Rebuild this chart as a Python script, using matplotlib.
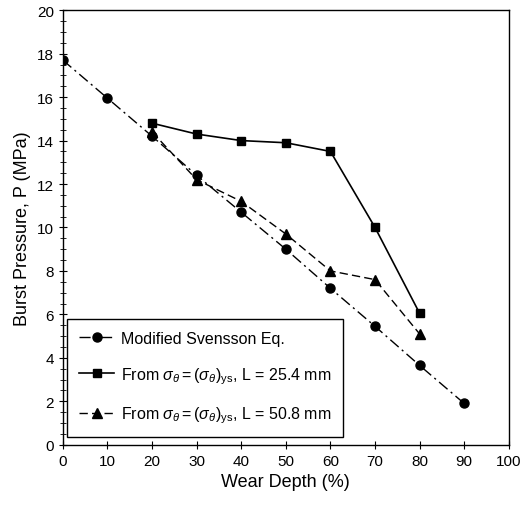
import matplotlib
matplotlib.use("Agg")
import matplotlib.pyplot as plt
from matplotlib.ticker import MultipleLocator

plt.rcParams['font.family'] = ['Liberation Sans', 'DejaVu Sans']
plt.rcParams['mathtext.fontset'] = 'custom'
plt.rcParams['mathtext.rm'] = 'Liberation Sans'
plt.rcParams['mathtext.it'] = 'Liberation Sans:italic'

depth_sv = [0, 10, 20, 30, 40, 50, 60, 70, 80, 90]
p_sv = [17.7, 15.95, 14.2, 12.4, 10.7, 9.0, 7.2, 5.45, 3.65, 1.9]

depth_sq = [20, 30, 40, 50, 60, 70, 80]
p_sq = [14.8, 14.3, 14.0, 13.9, 13.5, 10.0, 6.05]

depth_tr = [20, 30, 40, 50, 60, 70, 80]
p_tr = [14.4, 12.2, 11.2, 9.7, 8.0, 7.6, 5.1]

labels = ['Modified Svensson Eq.',
          r'From $\sigma_\theta = (\sigma_\theta)_{\rm ys}$, L = 25.4 mm',
          r'From $\sigma_\theta = (\sigma_\theta)_{\rm ys}$, L = 50.8 mm']

fig = plt.figure(figsize=(5.24, 5.10), dpi=100)
ax = fig.add_axes([0.120, 0.126, 0.851, 0.852])

ax.plot(depth_sv, p_sv, color='black', linestyle=(0, (8, 3, 1.5, 3)), lw=1.0,
        marker='o', markersize=6.5, label=labels[0])
ax.plot(depth_sq, p_sq, color='black', linestyle='-', lw=1.2,
        marker='s', markersize=6, label=labels[1])
ax.plot(depth_tr, p_tr, color='black', linestyle=(0, (6, 3)), lw=1.0,
        marker='^', markersize=6.5, label=labels[2])

ax.set_xlim(0, 100)
ax.set_ylim(0, 20)
ax.xaxis.set_major_locator(MultipleLocator(10))
ax.yaxis.set_major_locator(MultipleLocator(2))
ax.yaxis.set_minor_locator(MultipleLocator(0.5))
ax.tick_params(axis='both', which='major', labelsize=11, direction='inout', length=6)
ax.tick_params(axis='y', which='minor', direction='inout', length=4)
for s in ax.spines.values():
    s.set_linewidth(1.0)

ax.set_xlabel('Wear Depth (%)', fontsize=13)
ax.set_ylabel('Burst Pressure, P (MPa)', fontsize=13)

leg = ax.legend(loc='lower left', bbox_to_anchor=(0.01, 0.017), fontsize=11.5,
                frameon=True, fancybox=False, edgecolor='black', framealpha=1,
                handlelength=2.2, handletextpad=0.4, labelspacing=1.2,
                borderpad=0.75, borderaxespad=0.0)
leg.get_frame().set_linewidth(1.0)

fig.savefig('out.png', dpi=100)
